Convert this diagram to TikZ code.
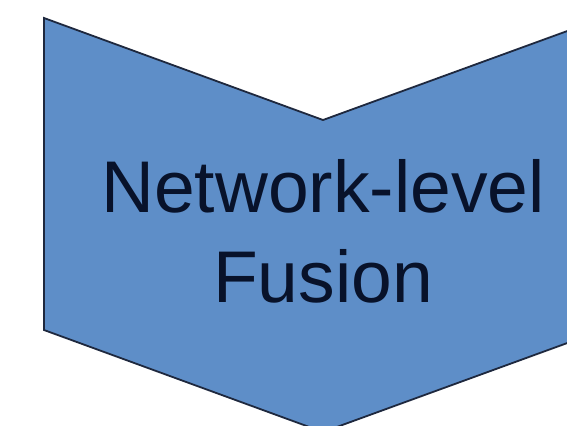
\documentclass[tikz,border=0pt]{standalone}
\usepackage{fontspec}
\setmainfont{Liberation Sans}
\definecolor{chevfill}{RGB}{94,142,200}
\definecolor{chevline}{RGB}{30,40,62}
\definecolor{txtcol}{RGB}{8,18,42}
\tikzset{
  chevron/.style={fill=chevfill, draw=chevline, line width=1.8bp, line join=miter},
  label text/.style={text=txtcol, font=\fontsize{73.5}{90}\selectfont, anchor=base, inner sep=0pt}
}
\begin{document}
\begin{tikzpicture}[x=1bp,y=-1bp]
\useasboundingbox (0,0) rectangle (567,425);
\clip (0,0) rectangle (567,425);
\fill[white] (0,0) rectangle (567,425);
\draw[chevron] (44,18) -- (323,120) -- (603,18) -- (603,330) -- (323,432) -- (44,330) -- cycle;
\node[label text] (t1) at (323,212) {Network-level};
\node[label text] (t2) at (323,302) {Fusion};
\end{tikzpicture}
\end{document}
